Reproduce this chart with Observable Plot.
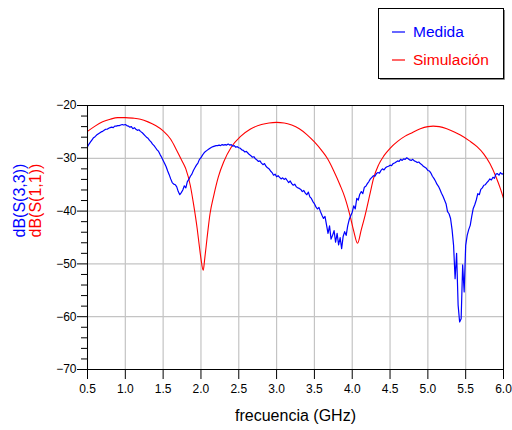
<!DOCTYPE html>
<html>
<head>
<meta charset="utf-8">
<script src="https://cdn.jsdelivr.net/npm/d3@7"></script>
<script src="https://cdn.jsdelivr.net/npm/@observablehq/plot@0.6"></script>
<style>
  html, body { margin: 0; padding: 0; background: #fff; }
  #wrap { position: relative; width: 512px; height: 430px; font-family: "Liberation Sans", Arial, sans-serif; }
  #legend { position: absolute; left: 378px; top: 8px; }
</style>
</head>
<body>
<div id="wrap"></div>
<script>
// ---- data ----
const xTicks = [0.5, 1.0, 1.5, 2.0, 2.5, 3.0, 3.5, 4.0, 4.5, 5.0, 5.5, 6.0];
const yTicks = [-70, -60, -50, -40, -30, -20];
const yMinorTicks = [-68,-66,-64,-62,-58,-56,-54,-52,-48,-46,-44,-42,-38,-36,-34,-32,-28,-26,-24,-22];

// Measured sweep: 0.50 GHz to 6.00 GHz every 0.02 GHz
const medidaStart = 0.5;
const medidaStep = 0.02;
const medidaDb = [
  -27.8,-27.3,-26.9,-26.5,-26.1,-25.9,-25.6,-25.4,-25.2,-25.0,
  -24.9,-24.7,-24.5,-24.5,-24.3,-24.2,-24.1,-24.2,-23.9,-23.9,
  -23.8,-23.8,-23.7,-23.6,-23.7,-23.6,-23.8,-23.9,-24.1,-24.0,
  -24.4,-24.2,-24.5,-24.7,-24.6,-24.9,-25.1,-25.4,-25.7,-26.0,
  -26.2,-26.6,-26.9,-27.3,-27.6,-28.0,-28.4,-28.7,-29.3,-29.8,
  -30.4,-31.0,-31.6,-32.4,-33.1,-33.9,-34.6,-34.9,-35.0,-35.4,
  -36.3,-36.9,-36.5,-36.0,-35.2,-35.6,-34.4,-34.0,-33.4,-33.0,
  -32.3,-31.8,-31.3,-30.9,-30.2,-29.9,-29.4,-29.0,-28.7,-28.5,
  -28.3,-28.1,-27.9,-27.8,-27.7,-27.6,-27.6,-27.5,-27.6,-27.4,
  -27.5,-27.4,-27.5,-27.3,-27.5,-27.4,-27.7,-27.6,-27.9,-27.8,
  -28.0,-28.1,-28.4,-28.5,-28.8,-28.7,-29.0,-29.3,-29.5,-29.8,
  -29.7,-30.1,-30.3,-30.6,-30.5,-30.9,-31.2,-31.0,-31.5,-31.8,
  -32.0,-32.4,-32.7,-33.2,-33.0,-33.5,-33.3,-33.6,-33.9,-33.7,
  -34.0,-33.8,-34.2,-34.6,-34.3,-34.8,-35.1,-34.9,-35.4,-35.6,
  -35.7,-35.9,-36.3,-36.1,-36.6,-36.9,-36.4,-37.3,-37.6,-38.2,
  -38.6,-39.2,-39.6,-39.3,-40.1,-40.8,-41.4,-41.0,-42.6,-44.2,
  -42.8,-45.3,-44.6,-43.7,-45.9,-44.2,-46.4,-45.0,-47.1,-44.8,
  -43.9,-44.6,-42.8,-41.6,-40.9,-40.2,-39.0,-39.6,-37.6,-37.9,
  -36.8,-36.3,-36.7,-35.5,-35.3,-34.8,-34.4,-33.9,-33.6,-33.3,
  -33.4,-32.9,-32.7,-32.8,-32.3,-32.0,-32.2,-31.8,-31.6,-31.5,
  -31.3,-31.4,-31.0,-30.9,-30.7,-30.5,-30.6,-30.2,-30.4,-30.1,
  -30.2,-29.9,-30.1,-30.3,-30.4,-30.2,-30.5,-30.6,-30.8,-30.7,
  -31.0,-31.2,-31.5,-31.7,-31.9,-32.3,-32.4,-32.8,-33.4,-33.8,
  -34.3,-34.9,-35.3,-35.9,-36.6,-37.2,-37.9,-38.6,-40.1,-40.5,
  -41.4,-43.5,-46.5,-52.8,-48.0,-57.8,-61.0,-60.4,-50.2,-55.3,
  -46.5,-44.6,-43.5,-42.7,-41.0,-39.5,-38.8,-37.9,-36.7,-36.9,
  -35.9,-35.6,-35.1,-35.0,-34.6,-34.3,-33.9,-34.1,-33.6,-33.8,
  -33.0,-32.9,-33.2,-32.7,-33.0,-32.9
];

// Simulation (smooth curve)
const simFreq = [0.50,0.60,0.70,0.80,0.90,1.00,1.10,1.20,1.30,1.40,1.50,1.60,1.68,1.75,1.80,1.86,1.90,1.95,1.98,2.00,2.03,2.05,2.08,2.12,2.17,2.23,2.30,2.40,2.52,2.65,2.80,2.90,3.00,3.10,3.20,3.30,3.40,3.50,3.60,3.67,3.75,3.84,3.90,3.97,4.02,4.07,4.12,4.17,4.24,4.28,4.35,4.42,4.50,4.60,4.70,4.77,4.90,5.00,5.07,5.15,5.25,5.35,5.43,5.55,5.65,5.74,5.82,5.90,5.96,6.00];
const simDb   = [-24.9,-23.9,-23.1,-22.6,-22.3,-22.3,-22.4,-22.6,-23.1,-23.8,-24.8,-26.4,-28.5,-30.5,-32.0,-35.2,-38.5,-43.3,-46.8,-49.0,-51.2,-49.0,-45.2,-40.5,-37.0,-33.5,-30.7,-27.9,-25.9,-24.5,-23.6,-23.3,-23.2,-23.3,-23.7,-24.4,-25.5,-26.9,-28.6,-30.0,-32.2,-35.1,-37.3,-40.8,-43.8,-46.1,-43.5,-40.8,-36.4,-33.9,-31.2,-29.5,-28.1,-26.8,-25.8,-25.3,-24.4,-24.0,-23.9,-24.0,-24.4,-25.0,-25.6,-26.7,-27.8,-29.2,-31.0,-33.5,-35.8,-37.6];

const seriesNames = ["Medida", "Simulación"];
const seriesColors = ["#0000ff", "#ff0000"];
const yLabels = ["dB(S(3,3))", "dB(S(1,1))"];
const xLabel = "frecuencia (GHz)";

// ---- tables ----
const medida = medidaDb.map((v, i) => ({f: +(medidaStart + medidaStep * i).toFixed(2), db: v}));
const sim = simFreq.map((f, i) => ({f, db: simDb[i]}));
const fmtY = d3.format("d");

const chart = Plot.plot({
  width: 512,
  height: 430,
  marginLeft: 87,
  marginRight: 9,
  marginTop: 105,
  marginBottom: 61,
  style: {fontFamily: "'Liberation Sans', Arial, sans-serif", fontSize: "12px", color: "#000", background: "#fff", overflow: "visible"},
  x: {domain: [0.5, 6.0], label: null},
  y: {domain: [-70, -20], label: null},
  marks: [
    Plot.gridX(xTicks, {stroke: "#c4c4c4", strokeOpacity: 1, strokeWidth: 1.2}),
    Plot.gridY(yTicks, {stroke: "#c4c4c4", strokeOpacity: 1, strokeWidth: 1.2}),
    Plot.line(sim, {x: "f", y: "db", stroke: seriesColors[1], strokeWidth: 1.1, curve: "monotone-x"}),
    Plot.line(medida, {x: "f", y: "db", stroke: seriesColors[0], strokeWidth: 1.2}),
    Plot.frame({stroke: "#000", strokeWidth: 1}),
    Plot.axisX(xTicks, {tickSize: 10, tickPadding: 5, tickFormat: d => d.toFixed(1), label: null, stroke: "#000"}),
    Plot.axisY(yMinorTicks, {tickSize: 6, tickFormat: () => "", label: null, stroke: "#000"}),
    Plot.axisY(yTicks, {tickSize: 10, tickPadding: 1, tickFormat: fmtY, label: null, stroke: "#000"}),
    Plot.text([xLabel], {frameAnchor: "bottom", dy: 51, fontSize: 16, fill: "#000"}),
    Plot.text([yLabels[0]], {frameAnchor: "left", dx: -68, rotate: -90, fontSize: 16, fill: seriesColors[0]}),
    Plot.text([yLabels[1]], {frameAnchor: "left", dx: -52, rotate: -90, fontSize: 16, fill: seriesColors[1]})
  ]
});

const wrap = document.getElementById("wrap");
wrap.appendChild(chart);

// legend box
const ns = "http://www.w3.org/2000/svg";
const leg = document.createElementNS(ns, "svg");
leg.setAttribute("id", "legend");
leg.setAttribute("width", 128);
leg.setAttribute("height", 73);
leg.style.position = "absolute";
leg.style.left = "378px";
leg.style.top = "8px";
const rect = document.createElementNS(ns, "rect");
rect.setAttribute("x", 0.5); rect.setAttribute("y", 0.5);
rect.setAttribute("width", 125); rect.setAttribute("height", 70);
rect.setAttribute("fill", "#fff"); rect.setAttribute("stroke", "#000");
const shadow = document.createElementNS(ns, "path");
shadow.setAttribute("d", "M126.5 2 V71.5 H2");
shadow.setAttribute("fill", "none"); shadow.setAttribute("stroke", "#888");
leg.appendChild(shadow);
leg.appendChild(rect);
seriesNames.forEach((name, i) => {
  const ly = 24 + 28 * i;
  const l = document.createElementNS(ns, "line");
  l.setAttribute("x1", 14); l.setAttribute("x2", 27);
  l.setAttribute("y1", ly); l.setAttribute("y2", ly);
  l.setAttribute("stroke", seriesColors[i]); l.setAttribute("stroke-width", 1.2);
  leg.appendChild(l);
  const t = document.createElementNS(ns, "text");
  t.setAttribute("x", 35); t.setAttribute("y", ly + 5);
  t.setAttribute("fill", seriesColors[i]);
  t.setAttribute("font-size", "15.5px");
  t.setAttribute("font-family", "'Liberation Sans', Arial, sans-serif");
  t.textContent = name;
  leg.appendChild(t);
});
wrap.appendChild(leg);
</script>
</body>
</html>
